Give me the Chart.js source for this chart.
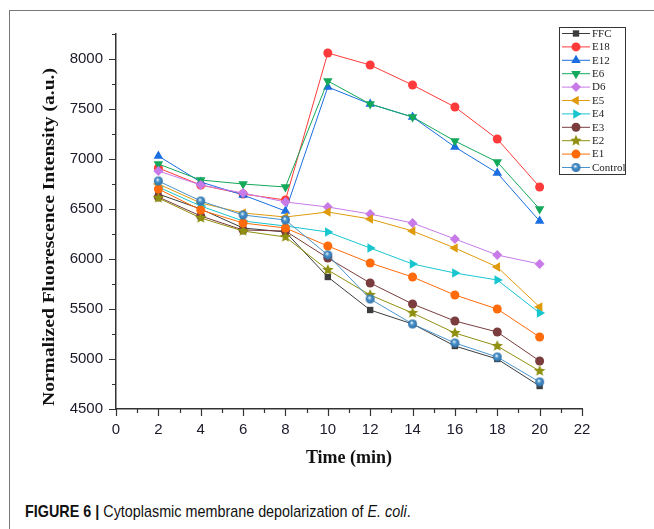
<!DOCTYPE html>
<html>
<head>
<meta charset="utf-8">
<script src="https://cdn.jsdelivr.net/npm/chart.js@4/dist/chart.umd.min.js"></script>
<style>
  html, body { margin: 0; padding: 0; background: #fff; }
  #wrap { position: relative; width: 654px; height: 529px; overflow: hidden; }
  #frame { position: absolute; left: 9px; top: 10px; width: 700px; height: 600px; border: 1px solid #777; }
  #chart { position: absolute; left: 0; top: 0; }
  #caption {
    position: absolute; left: 25px; top: 502px; white-space: nowrap;
    font-family: "Liberation Sans", Arial, sans-serif;
    font-size: 17px; color: #111;
    transform: scaleX(0.845); transform-origin: 0 0;
  }
</style>
</head>
<body>
<div id="wrap">
  <div id="frame"></div>
  <canvas id="chart" width="654" height="480"></canvas>
  <div id="caption"><b>FIGURE 6 |</b> Cytoplasmic membrane depolarization of <i>E. coli</i>.</div>
</div>
<script>
// time points (min)
const time = [2, 4, 6, 8, 10, 12, 14, 16, 18, 20];

// normalized fluorescence intensity (a.u.)
const FFC     = [6650, 6500, 6310, 6270, 5820, 5490, 5350, 5130, 5000, 4730];
const E18     = [6910, 6740, 6650, 6590, 8060, 7940, 7740, 7520, 7200, 6720];
const E12     = [7030, 6770, 6640, 6480, 7720, 7550, 7420, 7120, 6860, 6380];
const E6      = [6950, 6790, 6750, 6720, 7780, 7550, 7420, 7180, 6970, 6500];
const D6      = [6880, 6740, 6660, 6570, 6520, 6450, 6360, 6200, 6040, 5950];
const E5      = [6750, 6560, 6460, 6420, 6470, 6400, 6280, 6110, 5920, 5520];
const E4      = [6720, 6530, 6380, 6330, 6270, 6110, 5950, 5860, 5790, 5460];
const E3      = [6620, 6430, 6290, 6280, 6010, 5760, 5550, 5380, 5270, 4980];
const E2      = [6610, 6410, 6280, 6220, 5890, 5640, 5460, 5260, 5130, 4880];
const E1      = [6700, 6490, 6360, 6310, 6130, 5960, 5820, 5640, 5500, 5220];
const Control = [6780, 6580, 6440, 6390, 6040, 5600, 5350, 5160, 5020, 4770];

const seriesNames = ['FFC', 'E18', 'E12', 'E6', 'D6', 'E5', 'E4', 'E3', 'E2', 'E1', 'Control'];
const seriesData = [FFC, E18, E12, E6, D6, E5, E4, E3, E2, E1, Control];

// axis ticks
const xTicks = [0, 2, 4, 6, 8, 10, 12, 14, 16, 18, 20, 22];
const yTicks = [4500, 5000, 5500, 6000, 6500, 7000, 7500, 8000];

// filled star marker for E2
function makeStar(color, r) {
    const c = document.createElement('canvas');
    c.width = c.height = r * 2 + 2;
    const g = c.getContext('2d');
    g.fillStyle = color;
    g.beginPath();
    for (let i = 0; i < 10; i++) {
        const rad = i % 2 === 0 ? r : r * 0.45;
        const a = -Math.PI / 2 + i * Math.PI / 5;
        const px = c.width / 2 + rad * Math.cos(a);
        const py = c.height / 2 + rad * Math.sin(a);
        if (i === 0) g.moveTo(px, py); else g.lineTo(px, py);
    }
    g.closePath();
    g.fill();
    return c;
}

// shaded sphere marker for Control
function makeSphere(color, r) {
    const c = document.createElement('canvas');
    c.width = c.height = r * 2 + 2;
    const g = c.getContext('2d');
    const m = c.width / 2;
    const grad = g.createRadialGradient(m - r * 0.2, m - r * 0.3, 0.5, m, m, r);
    grad.addColorStop(0, '#e8f4ff');
    grad.addColorStop(0.35, color);
    grad.addColorStop(1, '#2f6fa6');
    g.fillStyle = grad;
    g.beginPath();
    g.arc(m, m, r, 0, Math.PI * 2);
    g.fill();
    return c;
}

const styles = [
    { color: '#3c3c3c', pointStyle: 'rect', radius: 4.5, rotation: 0 },
    { color: '#ff3a3a', pointStyle: 'circle', radius: 4.5, rotation: 0 },
    { color: '#1a6ee0', pointStyle: 'triangle', radius: 5.5, rotation: 0 },
    { color: '#14a85a', pointStyle: 'triangle', radius: 5.5, rotation: 180 },
    { color: '#c77ae8', pointStyle: 'rectRot', radius: 5, rotation: 0 },
    { color: '#e09b0c', pointStyle: 'triangle', radius: 5.5, rotation: 270 },
    { color: '#17c6cf', pointStyle: 'triangle', radius: 5.5, rotation: 90 },
    { color: '#7a3c3c', pointStyle: 'circle', radius: 4.5, rotation: 0 },
    { color: '#8f8f10', pointStyle: makeStar('#8f8f10', 6), radius: 6, rotation: 0 },
    { color: '#ff6a0a', pointStyle: 'circle', radius: 4.5, rotation: 0 },
    { color: '#4a94cc', pointStyle: makeSphere('#4a94cc', 4.5), radius: 4.5, rotation: 0 }
];

const datasets = seriesNames.map((name, i) => ({
    label: name,
    data: time.map((t, j) => ({ x: t, y: seriesData[i][j] })),
    borderColor: styles[i].color,
    backgroundColor: styles[i].color,
    borderWidth: 1,
    pointStyle: styles[i].pointStyle,
    pointRadius: styles[i].radius,
    pointRotation: styles[i].rotation,
    pointBorderWidth: 0,
    pointHoverRadius: styles[i].radius,
    tension: 0,
    order: seriesNames.length - i
}));

const PLOT = { left: 116, right: 582, top: 34, bottom: 409 };

// minor/major tick marks, axis titles and the boxed legend
const decorPlugin = {
    id: 'decor',
    afterDraw(chart) {
        const ctx = chart.ctx;
        const xs = chart.scales.x, ys = chart.scales.y;
        const area = chart.chartArea;
        ctx.save();
        ctx.strokeStyle = '#333';
        ctx.lineWidth = 1.2;
        ctx.beginPath();
        for (let v = 4500; v <= 8250; v += 250) {
            const y = Math.round(ys.getPixelForValue(v)) + 0.5;
            const len = v % 500 === 0 ? 7 : 4;
            ctx.moveTo(area.left - len, y);
            ctx.lineTo(area.left, y);
        }
        for (let v = 0; v <= 22; v += 1) {
            const x = Math.round(xs.getPixelForValue(v)) + 0.5;
            const len = v % 2 === 0 ? 7 : 4;
            ctx.moveTo(x, area.bottom);
            ctx.lineTo(x, area.bottom + len);
        }
        ctx.stroke();

        // axis titles
        ctx.fillStyle = '#111';
        ctx.font = 'bold 18px "Liberation Serif", "Times New Roman", serif';
        ctx.textAlign = 'center';
        ctx.textBaseline = 'middle';
        ctx.fillText('Time (min)', (area.left + area.right) / 2, 458);
        ctx.translate(50, 237);
        ctx.rotate(-Math.PI / 2);
        ctx.scale(1.15, 1);
        ctx.font = 'bold 17px "Liberation Serif", "Times New Roman", serif';
        ctx.fillText('Normalized Fluorescence Intensity (a.u.)', 0, 0);
        ctx.setTransform(1, 0, 0, 1, 0, 0);

        // legend box
        const lx = 559, ly = 27, lw = 66, lh = 147;
        ctx.strokeStyle = '#333';
        ctx.lineWidth = 1;
        ctx.strokeRect(lx + 0.5, ly + 0.5, lw, lh);
        ctx.font = '11px "Liberation Serif", "Times New Roman", serif';
        ctx.textAlign = 'left';
        seriesNames.forEach((name, i) => {
            const y = ly + 6.5 + i * 13.4;
            const st = styles[i];
            ctx.strokeStyle = st.color;
            ctx.fillStyle = st.color;
            ctx.lineWidth = 1;
            ctx.beginPath();
            ctx.moveTo(lx + 3, y);
            ctx.lineTo(lx + 31, y);
            ctx.stroke();
            if (typeof st.pointStyle === 'string') {
                Chart.helpers.drawPoint(ctx, {
                    pointStyle: st.pointStyle,
                    radius: st.radius,
                    rotation: st.rotation,
                    borderWidth: 0
                }, lx + 17, y);
            } else {
                const img = st.pointStyle;
                ctx.drawImage(img, lx + 17 - img.width / 2, y - img.height / 2);
            }
            ctx.fillStyle = '#222';
            ctx.fillText(name, lx + 33, y + 0.5);
        });
        ctx.restore();
    }
};

new Chart(document.getElementById('chart'), {
    type: 'line',
    data: { datasets: datasets },
    options: {
        responsive: false,
        animation: false,
        events: [],
        layout: {
            padding: { top: PLOT.top, right: 654 - PLOT.right, left: 0, bottom: 0 }
        },
        plugins: {
            legend: { display: false },
            tooltip: { enabled: false }
        },
        scales: {
            x: {
                type: 'linear',
                min: 0,
                max: 22,
                afterBuildTicks: axis => { axis.ticks = xTicks.map(v => ({ value: v })); },
                afterFit: axis => { axis.height = 480 - PLOT.bottom; },
                grid: { drawOnChartArea: false, tickColor: 'transparent', tickLength: 7 },
                border: { display: true, color: '#333', width: 1.5 },
                ticks: {
                    padding: 5,
                    maxRotation: 0,
                    color: '#1a1a2a',
                    callback: v => String(v),
                    font: { family: '"Liberation Sans", Arial, sans-serif', size: 15 }
                }
            },
            y: {
                type: 'linear',
                min: 4500,
                max: 8250,
                afterBuildTicks: axis => { axis.ticks = yTicks.map(v => ({ value: v })); },
                afterFit: axis => { axis.width = PLOT.left; },
                grid: { drawOnChartArea: false, tickColor: 'transparent', tickLength: 7 },
                border: { display: true, color: '#333', width: 1.5 },
                ticks: {
                    padding: 6,
                    color: '#1a1a2a',
                    callback: v => String(v),
                    font: { family: '"Liberation Sans", Arial, sans-serif', size: 15 }
                }
            }
        }
    },
    plugins: [decorPlugin]
});
</script>
</body>
</html>
